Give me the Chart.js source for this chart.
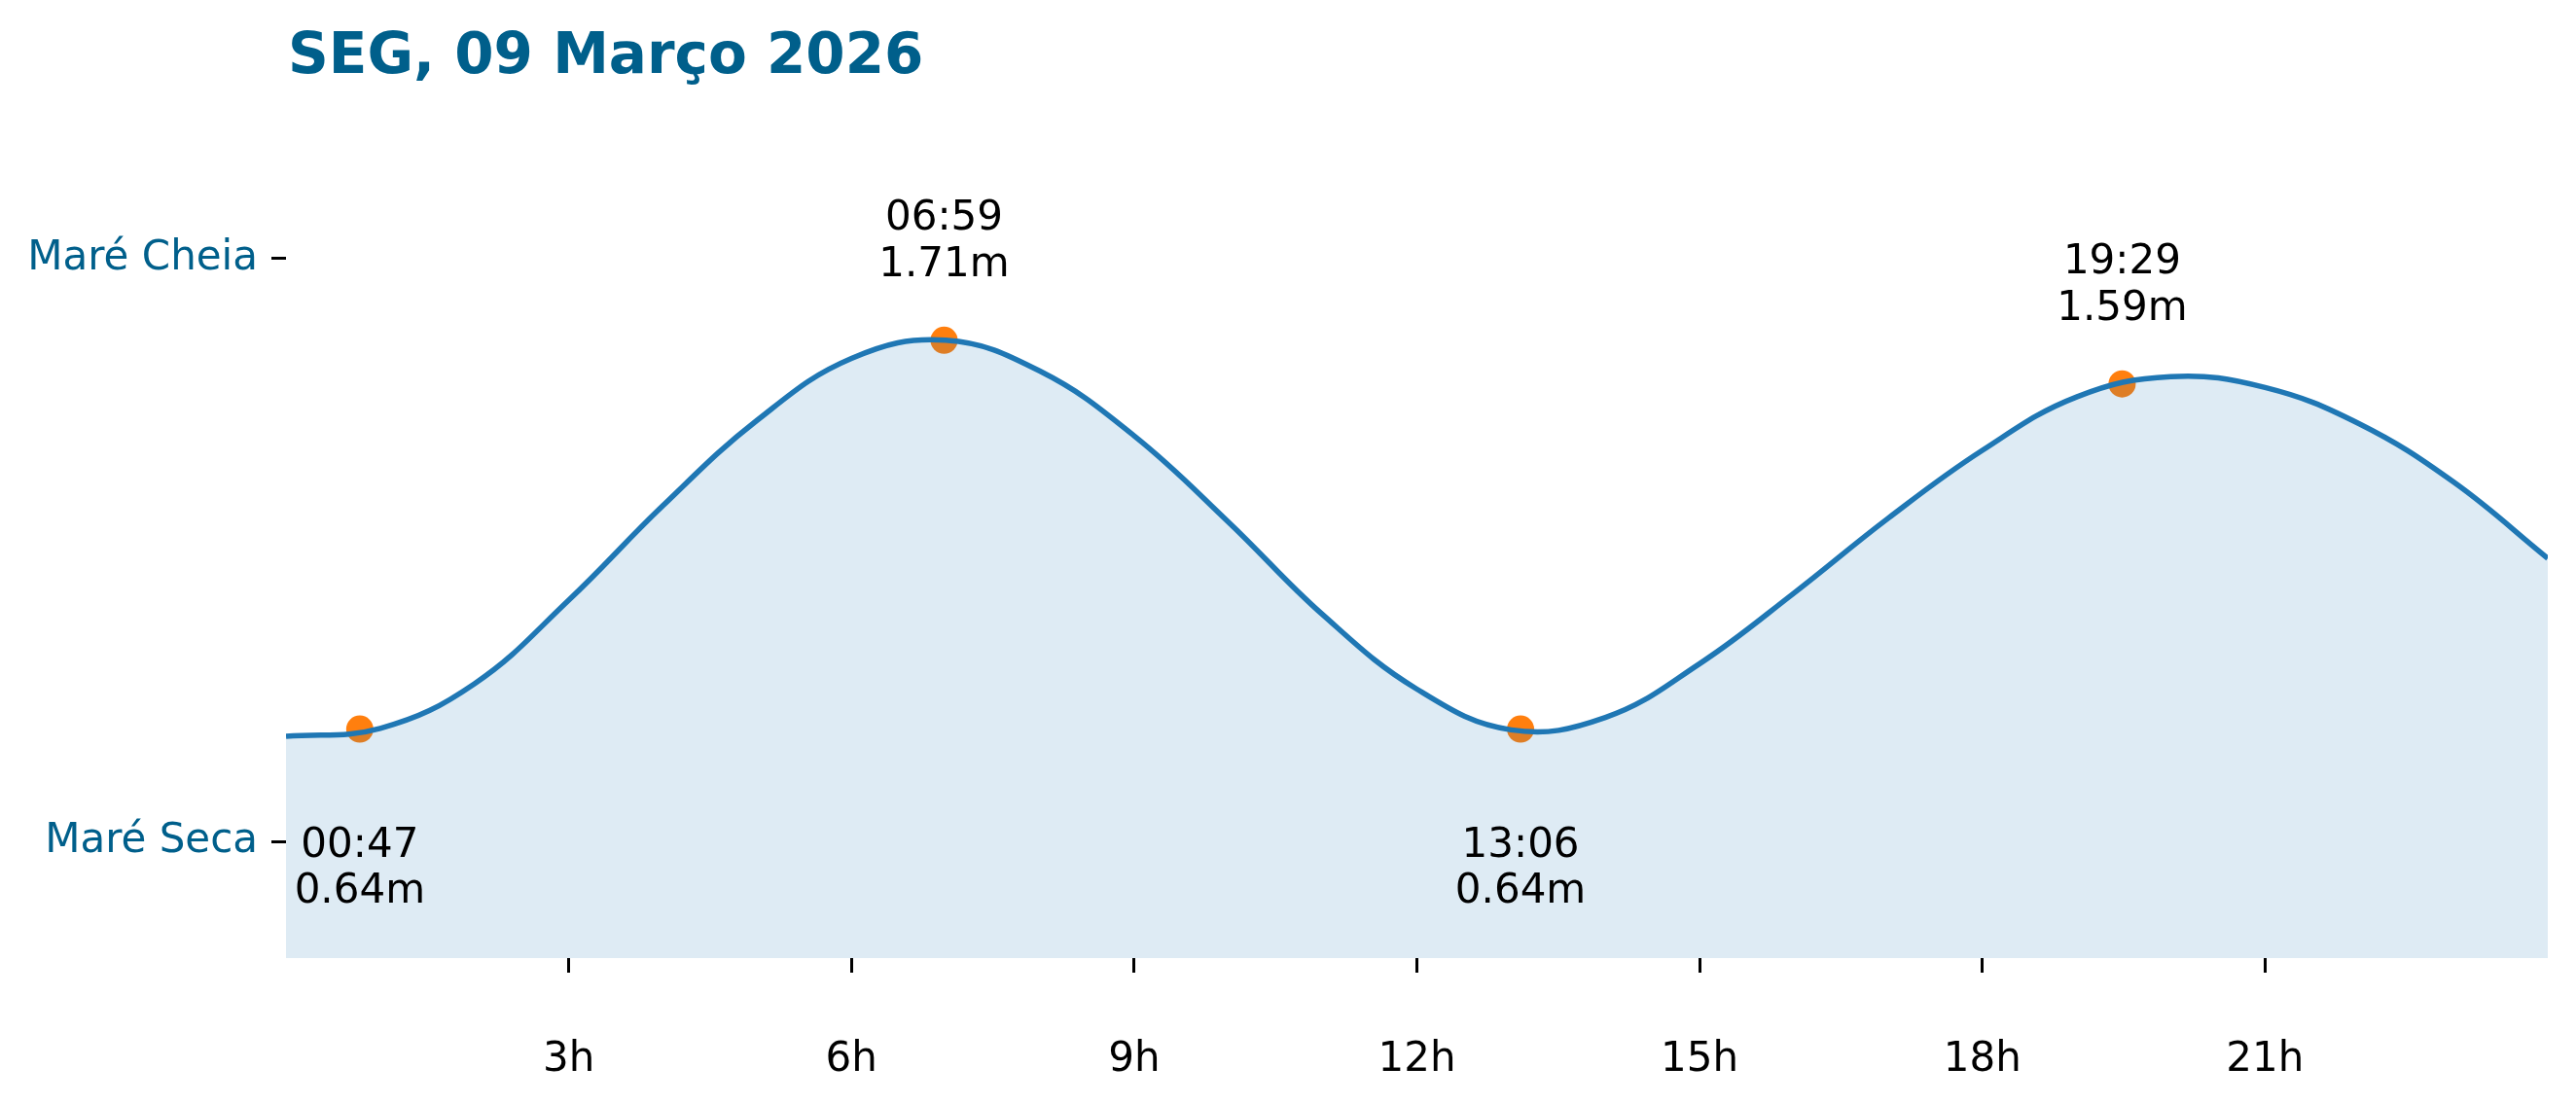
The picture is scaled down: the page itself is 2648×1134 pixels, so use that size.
<!DOCTYPE html>
<html>
<head>
<meta charset="utf-8">
<script src="https://cdn.jsdelivr.net/npm/chart.js@4/dist/chart.umd.min.js"></script>
<style>
    body { margin: 0; background: #fff; }
    #wrap { width: 2648px; height: 1134px; }
</style>
</head>
<body>
<div id="wrap"><canvas id="chartMare" width="2648" height="1134"></canvas></div>
<script>
// curva da maré (horas do dia / altura em metros)
const horas = [0, 1, 2, 3, 4, 5, 6, 7, 8, 9, 10, 11, 12, 13, 14, 15, 16, 17, 18, 19, 20, 21, 22, 23, 24];
const alturas = [0.62, 0.642, 0.765, 0.995, 1.255, 1.49, 1.66, 1.71, 1.625, 1.447, 1.21, 0.955, 0.75, 0.638, 0.672, 0.82, 1.014, 1.22, 1.407, 1.554, 1.61, 1.58, 1.48, 1.32, 1.11];

// preia-mar e baixa-mar
const horasExtremos = [0.783, 6.983, 13.1, 19.483];
const alturasExtremos = [0.64, 1.71, 0.64, 1.59];
const rotulosHora = ["00:47", "06:59", "13:06", "19:29"];
const tiposExtremo = ["seca", "cheia", "seca", "cheia"];

const xTicks = [3, 6, 9, 12, 15, 18, 21];
const yTicks = [0.33, 1.935];
const yTickLabels = ["Maré Seca", "Maré Cheia"];

const titulo = "SEG, 09 Março 2026";
const AZUL = "#005f8b";
const FONTE = "DejaVu Sans";

const pluginTitulo = {
    id: "titulo",
    afterDraw(chart) {
        const ctx = chart.ctx;
        ctx.save();
        ctx.font = "bold 58px " + FONTE;
        ctx.fillStyle = AZUL;
        ctx.textAlign = "left";
        ctx.textBaseline = "alphabetic";
        ctx.fillText(titulo, chart.chartArea.left + 2, 75);
        ctx.restore();
    }
};

const pluginRotulos = {
    id: "rotulos",
    afterDatasetsDraw(chart) {
        const ctx = chart.ctx;
        const sx = chart.scales.x;
        const sy = chart.scales.y;
        ctx.save();
        ctx.font = "42px " + FONTE;
        ctx.fillStyle = "#000";
        ctx.textAlign = "center";
        ctx.textBaseline = "middle";
        horasExtremos.forEach((h, i) => {
            const px = sx.getPixelForValue(h);
            const py = sy.getPixelForValue(alturasExtremos[i]);
            const altura = alturasExtremos[i].toFixed(2) + "m";
            if (tiposExtremo[i] === "cheia") {
                ctx.fillText(rotulosHora[i], px, py - 125);
                ctx.fillText(altura, px, py - 77);
            } else {
                ctx.fillText(rotulosHora[i], px, py + 120);
                ctx.fillText(altura, px, py + 167);
            }
        });
        ctx.restore();
    }
};

const ctx = document.getElementById("chartMare");
new Chart(ctx, {
    type: "line",
    data: {
        datasets: [
            {
                label: "Altura",
                data: horas.map((h, i) => ({ x: h, y: alturas[i] })),
                borderColor: "#1f77b4",
                backgroundColor: "rgba(31, 119, 180, 0.15)",
                borderWidth: 5.5,
                fill: "start",
                pointRadius: 0,
                tension: 0.4,
                order: 0
            },
            {
                type: "scatter",
                label: "Extremos",
                data: horasExtremos.map((h, i) => ({ x: h, y: alturasExtremos[i] })),
                backgroundColor: "#ff7f0e",
                borderWidth: 0,
                pointRadius: 14,
                order: 1
            }
        ]
    },
    options: {
        responsive: false,
        animation: false,
        layout: {
            padding: { top: 92, right: 29, left: 0, bottom: 0 }
        },
        plugins: {
            legend: { display: false },
            tooltip: { enabled: false }
        },
        scales: {
            x: {
                type: "linear",
                min: 0,
                max: 24,
                afterBuildTicks: axis => {
                    axis.ticks = xTicks.map(v => ({ value: v }));
                },
                afterFit: axis => {
                    axis.height = 149;
                },
                border: { display: false },
                grid: {
                    drawOnChartArea: false,
                    tickLength: 15,
                    tickWidth: 3,
                    tickColor: "#000"
                },
                ticks: {
                    callback: v => v + "h",
                    color: "#000",
                    padding: 65,
                    maxRotation: 0,
                    font: { family: FONTE, size: 42 }
                }
            },
            y: {
                min: 0.01,
                max: 2.4,
                afterBuildTicks: axis => {
                    axis.ticks = yTicks.map(v => ({ value: v }));
                },
                afterFit: axis => {
                    axis.width = 294;
                },
                border: { display: false },
                grid: {
                    drawOnChartArea: false,
                    tickLength: 15,
                    tickWidth: 3,
                    tickColor: "#000"
                },
                ticks: {
                    callback: (v, i) => yTickLabels[i],
                    color: AZUL,
                    padding: 14,
                    font: { family: FONTE, size: 42 }
                }
            }
        }
    },
    plugins: [pluginTitulo, pluginRotulos]
});
</script>
</body>
</html>
